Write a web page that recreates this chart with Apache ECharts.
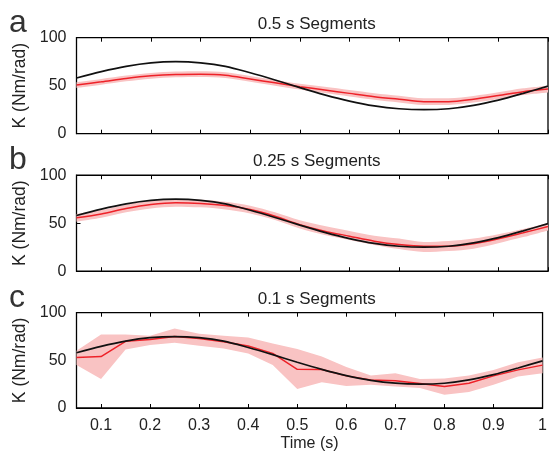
<!DOCTYPE html>
<html>
<head>
<meta charset="utf-8">
<title>Stiffness estimates by segment length</title>
<script src="https://cdn.jsdelivr.net/npm/echarts@6/dist/echarts.min.js"></script>
<style>
  html, body { margin: 0; padding: 0; background: #fff; }
  #chart { width: 550px; height: 453px; }
</style>
</head>
<body>
<div id="chart"></div>
<script>
// Sample times (s)
const timeS = ['0.05', '0.1', '0.15', '0.2', '0.25', '0.3', '0.35', '0.4', '0.45', '0.5',
               '0.55', '0.6', '0.65', '0.7', '0.75', '0.8', '0.85', '0.9', '0.95', '1'];

// True stiffness K (Nm/rad), shown in black on every panel
const trueK = [58, 64.7, 70.2, 73.8, 75, 73.8, 70.2, 63.5, 56, 48,
               40.5, 34, 29, 26, 25, 26, 29.5, 35, 42, 49.5];

// 0.5 s segments: mean estimate and band limits
const seg050Mean  = [50.7, 54, 57.6, 60.3, 61.7, 62, 61, 57, 53, 49,
                     45.5, 42, 38.6, 35.9, 33.4, 33.4, 35.9, 39.7, 43.8, 46.5];
const seg050Upper = [53.7, 57, 60.6, 63.3, 64.7, 65, 64, 60, 56, 52,
                     48.8, 45.5, 42.2, 39.5, 37, 37, 39.4, 43.2, 47.3, 50];
const seg050Lower = [47.7, 51, 54.6, 57.3, 58.7, 59, 58, 54, 50, 46,
                     42.3, 38.8, 35.3, 32.5, 30, 30, 32.4, 36.2, 40.3, 43];

// 0.25 s segments
const seg025Mean  = [55.6, 59.7, 65.3, 69.4, 71.2, 70.5, 68.4, 64.2, 57.3, 48.5,
                     41.7, 36.5, 31.3, 27.8, 26, 26, 28.5, 33.7, 40, 46.5];
const seg025Upper = [59.6, 63.7, 69.3, 73.4, 75.2, 74.5, 72.4, 68.2, 61.3, 53,
                     47, 42, 37, 34, 30.5, 31.5, 34, 38.5, 44, 50];
const seg025Lower = [51.6, 55.7, 61.3, 65.4, 67.2, 66.5, 64.4, 60.2, 53.3, 44.5,
                     37.7, 32.5, 27.3, 23, 20, 21, 23.5, 29.2, 35.5, 42.5];

// 0.1 s segments
const seg010Mean  = [53, 54, 70, 72, 75, 73, 69.5, 65, 57.3, 40.6,
                     40.5, 33.7, 29.5, 28.5, 25.7, 22.6, 26, 33.7, 40, 45];
const seg010Upper = [60, 77, 77, 75.7, 83.3, 78, 75.7, 74, 67.7, 61.8,
                     54, 43, 34, 36.5, 30.5, 31, 34, 40, 48, 53];
const seg010Lower = [45, 30.5, 61.5, 66, 68.4, 65.3, 62.5, 57.3, 45, 20,
                     27, 23, 24.3, 22.6, 21, 14, 16.7, 24.3, 33, 36.5];

// Panel captions and axis text
const panelTitles  = ['0.5 s Segments', '0.25 s Segments', '0.1 s Segments'];
const panelLetters = ['a', 'b', 'c'];
const xTickLabels  = ['0.1', '0.2', '0.3', '0.4', '0.5', '0.6', '0.7', '0.8', '0.9', '1'];
const xAxisTitle   = 'Time (s)';
const yAxisTitle   = 'K (Nm/rad)';

const panels = [
  { mean: seg050Mean, upper: seg050Upper, lower: seg050Lower, smooth: 0.3 },
  { mean: seg025Mean, upper: seg025Upper, lower: seg025Lower, smooth: 0.3 },
  { mean: seg010Mean, upper: seg010Upper, lower: seg010Lower, smooth: false }
];

const FONT = '"Liberation Sans", Arial, Helvetica, sans-serif';
const TEXT = '#222';
const gridTops = [37.7, 175.2, 312.7];
const gridLeft = 76.5;
const gridWidth = 471.5;
const gridHeight = 96;

// only the categories named in xTickLabels get a tick and a label
const onTick = (idx, value) => xTickLabels.indexOf(timeS[idx]) !== -1;

const grid = [], xAxis = [], yAxis = [], series = [], title = [], graphic = [];

panels.forEach((p, i) => {
  grid.push({
    left: gridLeft, top: gridTops[i], width: gridWidth, height: gridHeight,
    show: true, borderColor: '#000', borderWidth: 1.3, backgroundColor: 'transparent'
  });

  const isLast = i === panels.length - 1;
  const tickStyle = { show: true, inside: true, length: 4, interval: onTick,
                      alignWithLabel: true, lineStyle: { color: '#000', width: 1 } };
  // bottom axis
  xAxis.push({
    type: 'category', gridIndex: i, data: timeS, boundaryGap: false, position: 'bottom',
    axisLine: { show: true, lineStyle: { color: '#000', width: 1 } },
    axisTick: tickStyle,
    axisLabel: { show: isLast, interval: onTick, margin: 10,
                 color: TEXT, fontFamily: FONT, fontSize: 16 },
    splitLine: { show: false },
    name: isLast ? xAxisTitle : '', nameLocation: 'middle', nameGap: 28,
    nameTextStyle: { color: TEXT, fontFamily: FONT, fontSize: 16 }
  });
  // mirrored top axis (ticks only)
  xAxis.push({
    type: 'category', gridIndex: i, data: timeS, boundaryGap: false, position: 'top',
    axisLine: { show: true, lineStyle: { color: '#000', width: 1 } },
    axisTick: tickStyle,
    axisLabel: { show: false },
    splitLine: { show: false }
  });

  yAxis.push({
    type: 'value', gridIndex: i, min: 0, max: 100, interval: 50,
    axisLine: { show: true, lineStyle: { color: '#000', width: 1 } },
    axisTick: { show: true, inside: true, length: 4,
                lineStyle: { color: '#000', width: 1 } },
    axisLabel: { color: TEXT, fontFamily: FONT, fontSize: 16, margin: 10 },
    splitLine: { show: false },
    name: yAxisTitle, nameLocation: 'middle', nameGap: 42, nameRotate: 90,
    nameTextStyle: { color: TEXT, fontFamily: FONT, fontSize: 17.5 }
  });

  const xIdx = i * 2;
  const stackId = 'band' + i;
  // spread band: lower limit (invisible) + width stacked on top
  series.push({
    type: 'line', xAxisIndex: xIdx, yAxisIndex: i, stack: stackId,
    data: p.lower, symbol: 'none', smooth: p.smooth,
    lineStyle: { opacity: 0 }, silent: true, z: 1
  });
  series.push({
    type: 'line', xAxisIndex: xIdx, yAxisIndex: i, stack: stackId,
    data: p.upper.map((u, k) => u - p.lower[k]),
    symbol: 'none', smooth: p.smooth,
    lineStyle: { opacity: 0 }, areaStyle: { color: '#f9c3c3', opacity: 1 },
    silent: true, z: 1
  });
  // estimated stiffness
  series.push({
    type: 'line', xAxisIndex: xIdx, yAxisIndex: i, data: p.mean,
    symbol: 'none', smooth: p.smooth,
    lineStyle: { color: '#ee2229', width: 1.5 }, z: 3
  });
  // true stiffness
  series.push({
    type: 'line', xAxisIndex: xIdx, yAxisIndex: i, data: trueK,
    symbol: 'none', smooth: 0.3,
    lineStyle: { color: '#111', width: 1.7 }, z: 4
  });

  title.push({
    text: panelTitles[i], left: 76.5 + 470.5 / 2, textAlign: 'center',
    top: gridTops[i] - 27,
    textStyle: { color: TEXT, fontFamily: FONT, fontSize: 17, fontWeight: 'normal' }
  });

  graphic.push({
    type: 'text', left: 9, top: gridTops[i] - 31,
    style: { text: panelLetters[i], fill: '#333', font: '32px ' + FONT }
  });
});

const chart = echarts.init(document.getElementById('chart'), null, { renderer: 'canvas' });
chart.setOption({
  animation: false,
  backgroundColor: '#fff',
  title, grid, xAxis, yAxis, series, graphic
});
</script>
</body>
</html>
